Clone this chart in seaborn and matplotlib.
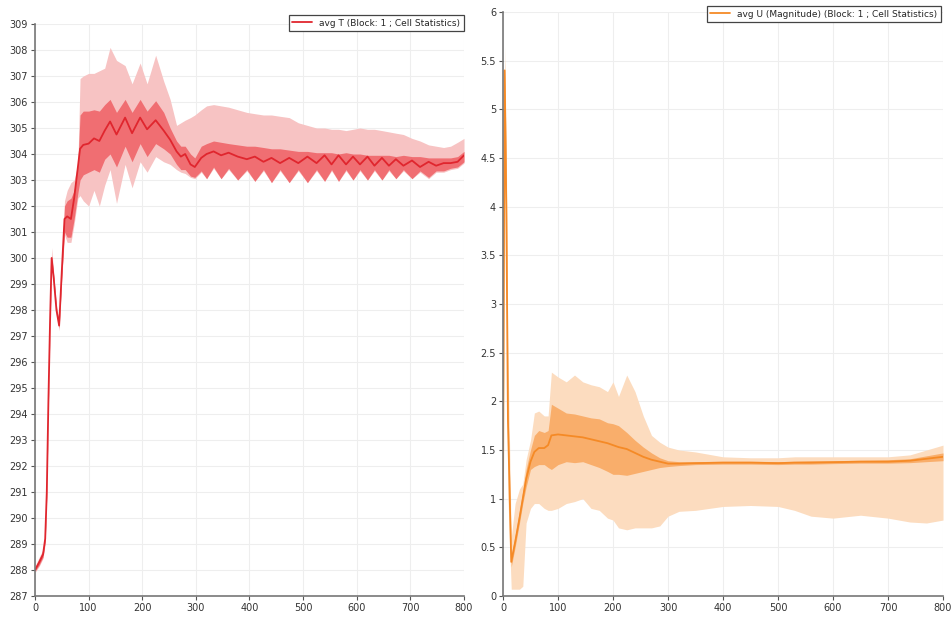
import matplotlib
matplotlib.use("Agg")
import matplotlib.pyplot as plt
import seaborn as sns
import pandas as pd
from matplotlib.ticker import MultipleLocator, FuncFormatter

# ---- avg T (left panel) ----
t_time = [0, 8, 15, 19, 22, 25, 28, 31, 35, 40, 45, 50, 55, 60, 67, 73, 80, 84, 90,
          100, 110, 120, 130, 140, 152, 168, 181, 196, 209, 225, 240, 252, 264, 272,
          280, 290, 298, 310, 320, 333, 347, 361, 378, 395, 410, 426, 441, 457, 474,
          491, 508, 525, 540, 553, 566, 580, 593, 606, 620, 633, 647, 660, 673, 687,
          703, 718, 734, 748, 762, 775, 788, 800]
t_mean = [288.0, 288.3, 288.6, 289.2, 291.0, 294.5, 297.5, 300.0, 299.2, 298.0, 297.4,
          299.5, 301.5, 301.6, 301.5, 302.3, 303.5, 304.2, 304.35,
          304.4, 304.6, 304.5, 304.9, 305.25, 304.75, 305.4, 304.8, 305.4, 304.95,
          305.3, 304.9, 304.55, 304.1, 303.9,
          304.0, 303.6, 303.5, 303.85, 304.0, 304.1, 303.95, 304.05, 303.9, 303.8,
          303.9, 303.7, 303.85, 303.65, 303.85,
          303.65, 303.9, 303.65, 303.95, 303.6, 303.95, 303.6, 303.9, 303.6, 303.9,
          303.55, 303.85, 303.55, 303.8, 303.55,
          303.75, 303.5, 303.7, 303.55, 303.65, 303.65, 303.7, 303.95]
t_std_lo = [287.95, 288.2, 288.5, 289.1, 290.9, 294.4, 297.4, 299.85, 299.1, 297.9, 297.3,
            299.3, 301.0, 300.8, 300.8, 301.5, 302.5, 303.0, 303.2,
            303.3, 303.4, 303.3, 303.8, 304.0, 303.5, 304.3, 303.7, 304.4, 303.9,
            304.4, 304.2, 304.0, 303.6, 303.4,
            303.4, 303.15, 303.1, 303.35, 303.05, 303.5, 303.05, 303.45, 303.0, 303.4,
            302.95, 303.4, 302.9, 303.4, 302.9,
            303.4, 302.9, 303.4, 302.95, 303.4, 302.95, 303.4, 303.0, 303.4, 303.0,
            303.4, 303.0, 303.4, 303.05, 303.4,
            303.05, 303.35, 303.1, 303.35, 303.35, 303.45, 303.5, 303.7]
t_std_hi = [288.1, 288.45, 288.75, 289.35, 291.15, 294.6, 297.6, 300.1, 299.3, 298.1, 297.5,
            299.7, 302.0, 302.2, 302.3, 302.6, 303.6, 305.5, 305.65,
            305.65, 305.7, 305.65, 305.9, 306.1, 305.6, 306.1, 305.6, 306.1, 305.65,
            306.05, 305.6, 305.0, 304.5, 304.3,
            304.3, 304.0, 303.85, 304.3, 304.4, 304.5, 304.45, 304.4, 304.35, 304.3,
            304.3, 304.25, 304.2, 304.2, 304.15,
            304.1, 304.1, 304.05, 304.05, 304.05, 304.0, 304.05, 304.0, 304.0, 303.95,
            303.95, 303.95, 303.95, 303.9, 303.95,
            303.9, 303.9, 303.85, 303.85, 303.85, 303.85, 303.9, 304.1]
t_min = [287.9, 288.15, 288.45, 289.0, 290.8, 294.3, 297.3, 299.7, 299.0, 297.8, 297.2,
         299.2, 300.9, 300.6, 300.6, 301.3, 302.3, 302.4, 302.2,
         302.0, 302.6, 302.0, 302.8, 303.4, 302.1, 303.6, 302.7, 303.7, 303.3,
         303.9, 303.7, 303.6, 303.4, 303.3,
         303.25, 303.1, 303.05, 303.3, 303.05, 303.45, 303.05, 303.4, 303.0, 303.35,
         302.95, 303.35, 302.9, 303.35, 302.9,
         303.35, 302.9, 303.35, 302.95, 303.35, 302.95, 303.35, 303.0, 303.35, 303.0,
         303.35, 303.0, 303.35, 303.05, 303.35,
         303.05, 303.3, 303.05, 303.3, 303.3, 303.4, 303.45, 303.65]
t_max = [288.15, 288.5, 288.8, 289.4, 291.2, 294.7, 297.8, 300.4, 299.4, 298.2, 297.6,
         299.9, 302.2, 302.6, 302.9, 303.0, 303.6, 306.9, 307.0,
         307.1, 307.1, 307.2, 307.3, 308.1, 307.6, 307.4, 306.7, 307.5, 306.7,
         307.8, 306.8, 306.1, 305.1, 305.2,
         305.3, 305.4, 305.5, 305.7, 305.85, 305.9, 305.85, 305.8, 305.7, 305.6,
         305.55, 305.5, 305.5, 305.45, 305.4,
         305.2, 305.1, 305.0, 305.0, 304.95, 304.95, 304.9, 304.95, 305.0, 304.95,
         304.95, 304.9, 304.85, 304.8, 304.75,
         304.6, 304.5, 304.35, 304.3, 304.25, 304.3, 304.45, 304.6]

# ---- avg U magnitude (right panel) ----
u_time = [0, 3, 6, 9, 15, 22, 30, 36, 42, 50, 57, 65, 75, 82, 88, 100, 115, 130, 145,
          160, 175, 190, 200, 210, 225, 240, 255, 270, 285, 300, 320, 350, 400, 450,
          500, 530, 560, 600, 650, 700, 740, 770, 800]
u_mean = [1.0, 5.4, 4.0, 1.8, 0.35, 0.55, 0.8, 1.0, 1.2, 1.38, 1.48, 1.52, 1.52, 1.55,
          1.65, 1.66, 1.65, 1.64, 1.63, 1.61, 1.59, 1.57, 1.55, 1.53, 1.51, 1.47, 1.43,
          1.40, 1.38, 1.36, 1.36, 1.365, 1.37, 1.37, 1.365, 1.37, 1.37, 1.375, 1.38,
          1.38, 1.39, 1.41, 1.43]
u_std_lo = [0.95, 4.6, 3.5, 1.5, 0.3, 0.5, 0.75, 0.95, 1.12, 1.3, 1.33, 1.35, 1.35, 1.32,
            1.3, 1.35, 1.38, 1.37, 1.38, 1.35, 1.32, 1.28, 1.25, 1.25, 1.24, 1.26, 1.28,
            1.3, 1.32, 1.33, 1.34, 1.35, 1.355, 1.355, 1.35, 1.355, 1.355, 1.36, 1.365,
            1.365, 1.37, 1.38, 1.39]
u_std_hi = [1.05, 5.5, 4.4, 2.0, 0.42, 0.62, 0.88, 1.08, 1.3, 1.5, 1.65, 1.7, 1.68, 1.7,
            1.97, 1.93, 1.88, 1.87, 1.85, 1.83, 1.82, 1.78, 1.77, 1.75, 1.68, 1.6, 1.53,
            1.47, 1.42, 1.39, 1.38, 1.38, 1.385, 1.385, 1.38, 1.385, 1.39, 1.39, 1.395,
            1.4, 1.41, 1.44, 1.47]
u_min = [0.9, 4.5, 3.0, 1.0, 0.07, 0.07, 0.07, 0.1, 0.75, 0.9, 0.95, 0.95, 0.9, 0.88,
         0.88, 0.9, 0.95, 0.97, 1.0, 0.9, 0.88, 0.8, 0.78, 0.7, 0.68, 0.7, 0.7, 0.7,
         0.72, 0.82, 0.87, 0.88, 0.92, 0.93, 0.92, 0.88, 0.82, 0.8, 0.83, 0.8, 0.76,
         0.75, 0.78]
u_max = [1.1, 5.65, 4.6, 2.5, 0.6, 0.95, 1.1, 1.15, 1.4, 1.6, 1.88, 1.9, 1.85, 1.85,
         2.3, 2.25, 2.2, 2.27, 2.2, 2.17, 2.15, 2.1, 2.2, 2.05, 2.27, 2.1, 1.85, 1.65,
         1.58, 1.53, 1.5, 1.48, 1.43, 1.42, 1.42, 1.43, 1.43, 1.43, 1.43, 1.43, 1.45,
         1.5, 1.55]

t_label = "avg T (Block: 1 ; Cell Statistics)"
u_label = "avg U (Magnitude) (Block: 1 ; Cell Statistics)"

df_t = pd.DataFrame({"time": t_time, "mean": t_mean, "lo": t_std_lo, "hi": t_std_hi,
                     "min": t_min, "max": t_max})
df_u = pd.DataFrame({"time": u_time, "mean": u_mean, "lo": u_std_lo, "hi": u_std_hi,
                     "min": u_min, "max": u_max})

sns.set_style("whitegrid")
plt.rcParams["font.family"] = ["DejaVu Sans"]

fig = plt.figure(figsize=(9.53, 6.19), dpi=100)
ax1 = fig.add_axes([35 / 953, 1 - 596 / 619, (464 - 35) / 953, (596 - 24) / 619])
ax2 = fig.add_axes([503 / 953, 1 - 596 / 619, (943 - 503) / 953, (596 - 12) / 619])

panels = [
    (ax1, df_t, t_label, "#e0262e", "#f06e72", "#f7c3c3", (287, 309), 1),
    (ax2, df_u, u_label, "#f58a26", "#f9ae6b", "#fcdcbf", (0, 6), 0.5),
]

for ax, df, label, c_line, c_std, c_range, ylim, ystep in panels:
    ax.fill_between(df["time"], df["min"], df["max"], color=c_range, lw=0)
    ax.fill_between(df["time"], df["lo"], df["hi"], color=c_std, lw=0)
    sns.lineplot(data=df, x="time", y="mean", ax=ax, color=c_line, lw=1.3, label=label)
    ax.set_xlim(0, 800)
    ax.set_ylim(*ylim)
    ax.xaxis.set_major_locator(MultipleLocator(100))
    ax.yaxis.set_major_locator(MultipleLocator(ystep))
    ax.yaxis.set_major_formatter(FuncFormatter(lambda v, p: f"{v:g}"))
    ax.set_xlabel("")
    ax.set_ylabel("")
    ax.grid(color="#eeeeee", lw=0.8)
    for s in ["top", "right"]:
        ax.spines[s].set_visible(False)
    for s in ["left", "bottom"]:
        ax.spines[s].set_color("#777777")
        ax.spines[s].set_linewidth(1.2)
    ax.tick_params(axis="both", length=3, width=0.8, color="#555555", labelsize=7,
                   labelcolor="#333333", left=True, bottom=True, pad=2)
    ax.set_facecolor("white")

leg1 = ax1.legend(loc="upper right", bbox_to_anchor=(464 / 953, 1 - 15 / 619),
                  bbox_transform=fig.transFigure, fontsize=6.5, frameon=True,
                  fancybox=False, edgecolor="#444444", framealpha=1, handlelength=2.2,
                  borderpad=0.4, borderaxespad=0)
leg2 = ax2.legend(loc="upper right", bbox_to_anchor=(941 / 953, 1 - 6 / 619),
                  bbox_transform=fig.transFigure, fontsize=6.5, frameon=True,
                  fancybox=False, edgecolor="#444444", framealpha=1, handlelength=2.2,
                  borderpad=0.4, borderaxespad=0)
for leg in (leg1, leg2):
    leg.get_frame().set_linewidth(0.9)
    leg.set_zorder(10)
for ax in (ax1, ax2):
    ax.set_clip_on(False)

fig.savefig("out.png", dpi=100)
